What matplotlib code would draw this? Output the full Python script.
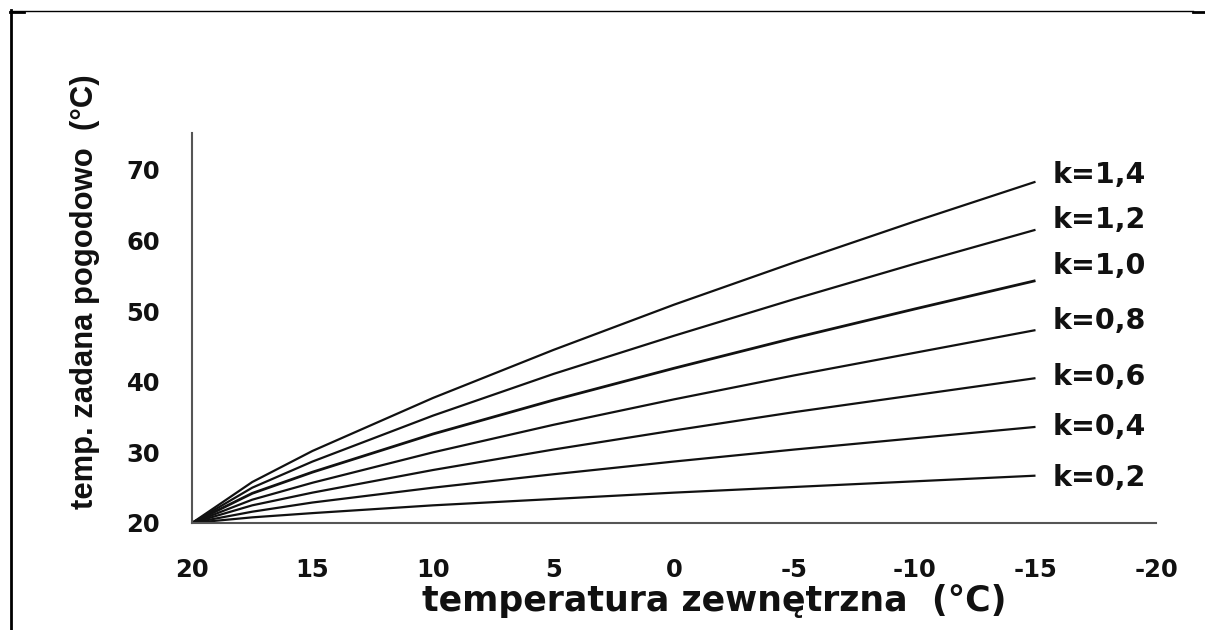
import matplotlib
matplotlib.use("Agg")
import matplotlib.pyplot as plt
from matplotlib.lines import Line2D

# ---- data ----
t_out = [20, 17.5, 15, 10, 5, 0, -5, -10, -15]
k_labels = ["k=1,4", "k=1,2", "k=1,0", "k=0,8", "k=0,6", "k=0,4", "k=0,2"]
curve_k14 = [20, 25.8, 30.2, 37.7, 44.5, 50.9, 56.9, 62.7, 68.3]
curve_k12 = [20, 25.0, 28.7, 35.2, 41.1, 46.5, 51.7, 56.7, 61.5]
curve_k10 = [20, 24.2, 27.2, 32.6, 37.4, 41.9, 46.2, 50.3, 54.3]
curve_k08 = [20, 23.3, 25.7, 30.0, 33.9, 37.5, 40.9, 44.1, 47.3]
curve_k06 = [20, 22.5, 24.3, 27.5, 30.4, 33.1, 35.7, 38.1, 40.5]
curve_k04 = [20, 21.6, 22.9, 25.0, 26.9, 28.7, 30.4, 32.0, 33.6]
curve_k02 = [20, 20.8, 21.4, 22.5, 23.4, 24.3, 25.1, 25.9, 26.7]
x_ticks = [20, 15, 10, 5, 0, -5, -10, -15, -20]
x_ticklabels = ["20", "15", "10", "5", "0", "-5", "-10", "-15", "-20"]
y_ticks = [20, 30, 40, 50, 60, 70]
y_ticklabels = ["20", "30", "40", "50", "60", "70"]
x_title = "temperatura zewnętrzna  (°C)"
y_title = "temp. zadana pogodowo  (°C)"

curves = [curve_k14, curve_k12, curve_k10, curve_k08, curve_k06, curve_k04, curve_k02]

# ---- layout ----
label_x = -15.7
label_y = [69.3, 62.9, 56.4, 48.6, 40.7, 33.6, 26.4]
line_w = [1.6, 1.6, 2.0, 1.6, 1.6, 1.6, 1.6]

plt.rcParams['font.family'] = ['DejaVu Sans']

W, H = 1205, 630
fig = plt.figure(figsize=(W / 100, H / 100), dpi=100)
fig.patch.set_facecolor('white')

ax = fig.add_axes([192 / W, 107 / H, (1156 - 192) / W, (523 - 133) / H])
for vals, lw in zip(curves, line_w):
    ax.plot(t_out, vals, color='#111111', lw=lw, solid_capstyle='butt')

for lab, ly in zip(k_labels, label_y):
    ax.text(label_x, ly, lab, ha='left', va='center', fontsize=20.5,
            fontweight='bold', color='#111111', clip_on=False)

ax.set_xlim(20, -20)
ax.set_ylim(20, 75.2)
ax.set_xticks(x_ticks)
ax.set_xticklabels(x_ticklabels)
ax.set_yticks(y_ticks)
ax.set_yticklabels(y_ticklabels)
ax.tick_params(axis='both', length=0, labelsize=17.5, colors='#111111')
ax.tick_params(axis='x', pad=25)
ax.tick_params(axis='y', pad=23)
for lab in ax.get_xticklabels() + ax.get_yticklabels():
    lab.set_fontweight('bold')

for s in ['top', 'right']:
    ax.spines[s].set_visible(False)
for s in ['left', 'bottom']:
    ax.spines[s].set_color('#555555')
    ax.spines[s].set_linewidth(1.5)

fig.text(714 / W, 1 - 601 / H, x_title, ha='center', va='center',
         fontsize=25, fontweight='bold', color='#111111')
fig.text(85 / W, 1 - 292 / H, y_title, ha='center', va='center',
         rotation=90, fontsize=22.3, fontweight='bold', color='#111111',
         family='Liberation Sans')

# outer frame decoration
def fline(x0, y0, x1, y1, lw):
    fig.add_artist(Line2D([x0 / W, x1 / W], [1 - y0 / H, 1 - y1 / H],
                          transform=fig.transFigure, color='black', lw=lw))

fline(10, 10.5, 1193, 10.5, 1.0)
fline(10, 11.5, 24, 11.5, 2.0)
fline(1193, 11.5, 1205, 11.5, 2.0)
fline(10.5, 10, 10.5, 630, 2.0)

fig.savefig('out.png', dpi=100, facecolor='white')
